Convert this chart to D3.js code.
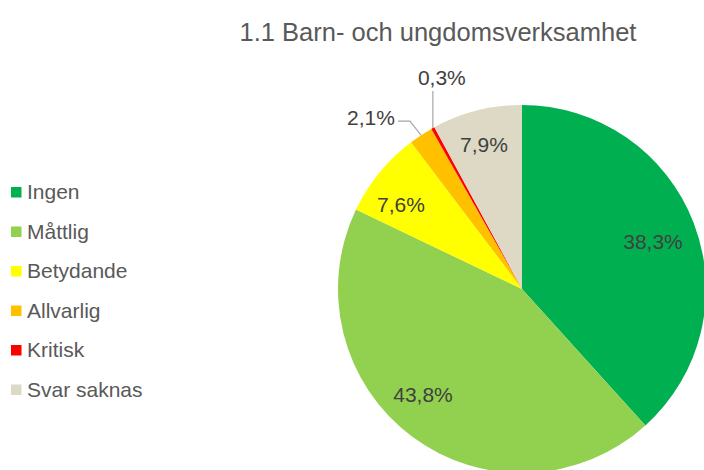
<!DOCTYPE html>
<html>
<head>
<meta charset="utf-8">
<script src="https://cdn.jsdelivr.net/npm/d3@7"></script>
<style>
  body { margin: 0; background: #fff; }
  svg { display: block; font-family: "Liberation Sans", Arial, sans-serif; }
</style>
</head>
<body>
<svg id="chart" width="704" height="470"></svg>
<script>
// data
var categories = ["Ingen", "Måttlig", "Betydande", "Allvarlig", "Kritisk", "Svar saknas"];
var values = [38.3, 43.8, 7.6, 2.1, 0.3, 7.9];
var colors = ["#00B050", "#92D050", "#FFFF00", "#FFC000", "#FF0000", "#DDD9C4"];
var title = "1.1 Barn- och ungdomsverksamhet";

var svg = d3.select("#chart");

var cx = 522, cy = 289, radius = 184;

svg.append("text")
    .attr("x", 438)
    .attr("y", 41)
    .attr("text-anchor", "middle")
    .style("font-size", "25.5px")
    .style("fill", "#595959")
    .text(title);

var data = categories.map(function(c, i) {
  return { name: c, value: values[i], color: colors[i] };
});

var pie = d3.pie().sort(null).value(function(d) { return d.value; });
var arcs = pie(data);

var arc = d3.arc().innerRadius(0).outerRadius(radius);

var g = svg.append("g").attr("transform", "translate(" + cx + "," + cy + ")");

g.selectAll("path.slice")
  .data(arcs)
  .enter().append("path")
    .attr("class", "slice")
    .attr("d", arc)
    .attr("fill", function(d) { return d.data.color; });

const fmt = (v) => v.toFixed(1).replace(".", ",") + "%";

// label placements (offsets from center)
var inside = { "Ingen": [131, -47], "Måttlig": [-99, 106], "Betydande": [-121, -84], "Svar saknas": [-38, -144] };

var labelColor = "#404040";
var labelSize = "21px";

arcs.forEach(function(d) {
  var pos = inside[d.data.name];
  if (pos) {
    g.append("text")
      .attr("x", pos[0]).attr("y", pos[1])
      .attr("text-anchor", "middle")
      .attr("dy", "0.35em")
      .style("font-size", labelSize)
      .style("fill", labelColor)
      .text(fmt(d.data.value));
  }
});

// outside labels with leader lines
function edgePoint(d) {
  var a = (d.startAngle + d.endAngle) / 2;
  return [Math.sin(a) * radius, -Math.cos(a) * radius];
}

var allv = arcs[3], krit = arcs[4];
var pA = edgePoint(allv);
var pK = edgePoint(krit);

g.append("polyline")
  .attr("points", [[pA[0], pA[1]], [pA[0] - 11, pA[1] - 14], [pA[0] - 23, pA[1] - 14]].map(function(p) { return p.join(","); }).join(" "))
  .attr("fill", "none")
  .attr("stroke", "#A6A6A6")
  .attr("stroke-width", 1.2);
g.append("text")
  .attr("x", pA[0] - 26).attr("y", pA[1] - 18)
  .attr("text-anchor", "end")
  .attr("dy", "0.35em")
  .style("font-size", labelSize)
  .style("fill", labelColor)
  .text(fmt(allv.data.value));

g.append("line")
  .attr("x1", pK[0]).attr("y1", pK[1])
  .attr("x2", pK[0]).attr("y2", pK[1] - 37)
  .attr("stroke", "#A6A6A6")
  .attr("stroke-width", 1.2);
g.append("text")
  .attr("x", pK[0] + 9).attr("y", pK[1] - 50)
  .attr("text-anchor", "middle")
  .attr("dy", "0.35em")
  .style("font-size", labelSize)
  .style("fill", labelColor)
  .text(fmt(krit.data.value));

// legend
var legend = svg.append("g").attr("transform", "translate(11,192)");
var rows = legend.selectAll("g.item")
  .data(data)
  .enter().append("g")
    .attr("class", "item")
    .attr("transform", function(d, i) { return "translate(0," + (i * 39.5) + ")"; });

rows.append("rect")
  .attr("x", 0).attr("y", -5)
  .attr("width", 10.5).attr("height", 10.5)
  .attr("fill", function(d) { return d.color; });

rows.append("text")
  .attr("x", 16).attr("y", 0)
  .attr("dy", "0.35em")
  .style("font-size", "21px")
  .style("fill", "#595959")
  .text(function(d) { return d.name; });
</script>
</body>
</html>
